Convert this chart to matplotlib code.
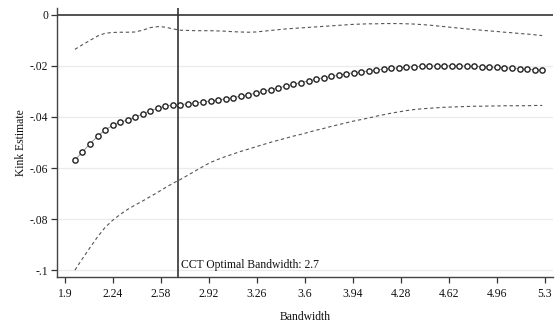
import numpy as np
import matplotlib
matplotlib.use("Agg")
import matplotlib.pyplot as plt

plt.rcParams['font.family'] = ['Liberation Serif', 'DejaVu Serif']

# bandwidth grid (63 estimates)
bandwidth = np.linspace(1.97, 5.28, 63)

# kink estimate
estimate = [
    -0.0569, -0.0537, -0.0505, -0.0476, -0.0451, -0.0433, -0.0421, -0.0412,
    -0.0401, -0.0388, -0.0375, -0.0366, -0.0357, -0.0354, -0.0352, -0.0348,
    -0.0345, -0.0341, -0.0337, -0.0333, -0.0329, -0.0324, -0.0319, -0.0313,
    -0.0307, -0.0300, -0.0293, -0.0286, -0.0279, -0.0272, -0.0265, -0.0259,
    -0.0252, -0.0246, -0.0241, -0.0236, -0.0231, -0.0227, -0.0223, -0.0220,
    -0.0216, -0.0213, -0.0210, -0.0207, -0.0205, -0.0203, -0.0202, -0.0201,
    -0.0200, -0.0200, -0.0200, -0.0200, -0.0201, -0.0202, -0.0203, -0.0204,
    -0.0206, -0.0207, -0.0209, -0.0211, -0.0213, -0.0215, -0.0217,
]

# upper confidence bound
ci_upper = [
    -0.0135, -0.0117, -0.0100, -0.0083, -0.0072, -0.0069, -0.0068, -0.0068,
    -0.0067, -0.0060, -0.0050, -0.0046, -0.0048, -0.0055, -0.0060, -0.0061,
    -0.0062, -0.0062, -0.0062, -0.0063, -0.0064, -0.0066, -0.0067, -0.0068,
    -0.0067, -0.0064, -0.0061, -0.0058, -0.0055, -0.0053, -0.0051, -0.0049,
    -0.0047, -0.0045, -0.0043, -0.0041, -0.0039, -0.0037, -0.0036, -0.0035,
    -0.0035, -0.0034, -0.0034, -0.0034, -0.0035, -0.0036, -0.0038, -0.0040,
    -0.0043, -0.0046, -0.0049, -0.0052, -0.0055, -0.0058, -0.0060, -0.0063,
    -0.0065, -0.0068, -0.0070, -0.0073, -0.0075, -0.0078, -0.0081,
]

# lower confidence bound
ci_lower = [
    -0.1000, -0.0955, -0.0912, -0.0870, -0.0833, -0.0805, -0.0782, -0.0762,
    -0.0745, -0.0729, -0.0712, -0.0695, -0.0677, -0.0660, -0.0645, -0.0628,
    -0.0611, -0.0594, -0.0578, -0.0566, -0.0555, -0.0545, -0.0535, -0.0526,
    -0.0517, -0.0508, -0.0499, -0.0491, -0.0483, -0.0475, -0.0468, -0.0460,
    -0.0452, -0.0445, -0.0437, -0.0430, -0.0423, -0.0416, -0.0410, -0.0404,
    -0.0397, -0.0391, -0.0385, -0.0380, -0.0375, -0.0371, -0.0368, -0.0366,
    -0.0364, -0.0362, -0.0361, -0.0360, -0.0359, -0.0358, -0.0358, -0.0357,
    -0.0357, -0.0356, -0.0356, -0.0356, -0.0356, -0.0355, -0.0355,
]

x_ticks = [1.9, 2.24, 2.58, 2.92, 3.26, 3.6, 3.94, 4.28, 4.62, 4.96, 5.3]
y_ticks = [0, -0.02, -0.04, -0.06, -0.08, -0.1]
y_labels = ['0', '-.02', '-.04', '-.06', '-.08', '-.1']
cct_bw = 2.7

fig = plt.figure(figsize=(5.55, 3.22), dpi=100)
ax = fig.add_axes([0.1027, 0.1398, 0.8937, 0.8354])

# light horizontal grid
for yv in y_ticks[1:]:
    ax.axhline(yv, color='#ebebeb', lw=0.9, zorder=0)
ax.axhline(0, color='#444444', lw=1.3, zorder=1)

ax.plot(bandwidth, ci_upper, color='#555555', lw=0.8, ls=(0, (3, 2.5)), zorder=2)
ax.plot(bandwidth, ci_lower, color='#555555', lw=0.8, ls=(0, (3, 2.5)), zorder=2)
ax.plot(bandwidth, estimate, color='#888888', lw=0.6, marker='o', ms=3.8,
        mfc='white', mec='#222222', mew=1.0, zorder=3)

ax.axvline(cct_bw, color='#333333', lw=1.2, zorder=2)
ax.text(cct_bw + 0.025, -0.0992, 'CCT Optimal Bandwidth: 2.7', fontsize=8.4,
        va='baseline', ha='left', color='#111111')

ax.set_xlim(1.843, 5.357)
ax.set_ylim(-0.1027, 0.0027)
ax.set_xticks(x_ticks)
ax.set_xticklabels([f'{v:g}' for v in x_ticks])
ax.set_yticks(y_ticks)
ax.set_yticklabels(y_labels)
ax.tick_params(axis='both', labelsize=8.4, length=4, width=0.9, color='#333333',
               labelcolor='#111111')
ax.tick_params(axis='x', pad=4)
ax.tick_params(axis='y', pad=2.5)

for s in ['top', 'right']:
    ax.spines[s].set_visible(False)
for s in ['left', 'bottom']:
    ax.spines[s].set_color('#444444')
    ax.spines[s].set_linewidth(1.0)

ax.set_xlabel('Bandwidth', fontsize=8.4, color='#111111', labelpad=8)
ax.set_ylabel('Kink Estimate', fontsize=8.4, color='#111111', labelpad=2)

fig.savefig('out.png', dpi=100)
